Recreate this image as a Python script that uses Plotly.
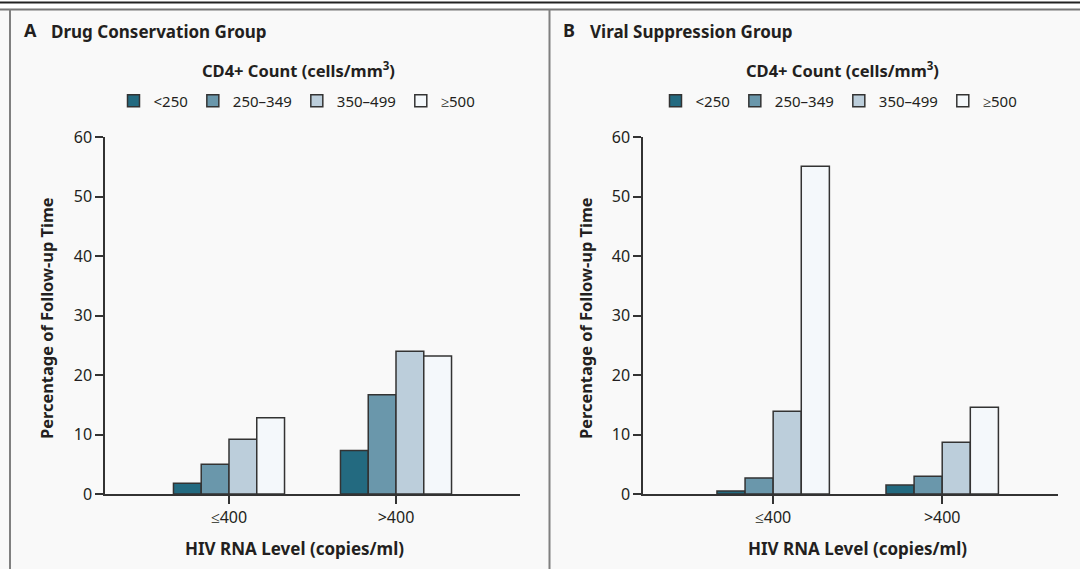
import plotly.graph_objects as go

W, H = 1080, 569

rna_levels = ["≤400", ">400"]
cd4_groups = ["<250", "250–349", "350–499", "≥500"]

# percentage of follow-up time, one list per CD4 group: [≤400, >400]
conservation = {
    "<250": [1.8, 7.3],
    "250–349": [5.0, 16.7],
    "350–499": [9.2, 24.0],
    "≥500": [12.8, 23.2],
}
suppression = {
    "<250": [0.5, 1.5],
    "250–349": [2.7, 3.0],
    "350–499": [13.9, 8.7],
    "≥500": [55.1, 14.6],
}

colors = {"<250": "#236a80", "250–349": "#6a97ab", "350–499": "#bccedb", "≥500": "#f4f8fb"}
FONT = "Noto Sans"
INK = "#231f20"


def px(x, y):
    return x / W, 1 - y / H


fig = go.Figure()

for name in cd4_groups:
    fig.add_trace(go.Bar(
        x=rna_levels, y=conservation[name], name=name,
        marker=dict(color=colors[name], line=dict(color="#333333", width=1.5)),
        xaxis="x", yaxis="y", legend="legend",
    ))
for name in cd4_groups:
    fig.add_trace(go.Bar(
        x=rna_levels, y=suppression[name], name=name,
        marker=dict(color=colors[name], line=dict(color="#333333", width=1.5)),
        xaxis="x2", yaxis="y2", legend="legend2",
    ))

axis_common = dict(
    showline=True, linecolor="#333333", linewidth=1.5,
    ticks="outside", ticklen=8, tickwidth=1.5, tickcolor="#333333",
    showgrid=False, zeroline=False, fixedrange=True, automargin=False,
    tickfont=dict(family=FONT, size=16, color=INK),
)

ybot, ytop = 1 - 494 / H, 1 - 137 / H

fig.update_layout(
    width=W, height=H,
    margin=dict(l=0, r=0, t=0, b=0, autoexpand=False),
    paper_bgcolor="#f9f9f9",
    plot_bgcolor="rgba(0,0,0,0)",
    barmode="group", bargap=0.335, bargroupgap=0,
    font=dict(family=FONT, color=INK),
    xaxis=dict(domain=[105 / W, 520 / W], range=[-0.7425, 1.7425], anchor="y", **axis_common),
    yaxis=dict(domain=[ybot, ytop], range=[0, 60], dtick=10, anchor="x", **axis_common),
    xaxis2=dict(domain=[643 / W, 1058 / W], range=[-0.77, 1.685], anchor="y2", **axis_common),
    yaxis2=dict(domain=[ybot, ytop], range=[0, 60], dtick=10, anchor="x2", **axis_common),
    legend=dict(orientation="h", x=297 / W, xanchor="center", y=1 - 101 / H, yanchor="middle",
                bgcolor="rgba(0,0,0,0)", font=dict(family=FONT, size=15, color=INK),
                traceorder="normal"),
    legend2=dict(orientation="h", x=839 / W, xanchor="center", y=1 - 101 / H, yanchor="middle",
                 bgcolor="rgba(0,0,0,0)", font=dict(family=FONT, size=15, color=INK),
                 traceorder="normal"),
)

# frame: white strip and rules at the top, panel borders
fig.add_shape(type="rect", xref="paper", yref="paper", x0=0, x1=1, y0=1 - 9 / H, y1=1,
              fillcolor="white", line_width=0, layer="below")
fig.add_shape(type="line", xref="paper", yref="paper", x0=0, x1=1, y0=1 - 2.5 / H, y1=1 - 2.5 / H,
              line=dict(color="#222222", width=2))
fig.add_shape(type="line", xref="paper", yref="paper", x0=0, x1=1, y0=1 - 9.5 / H, y1=1 - 9.5 / H,
              line=dict(color="#777777", width=2))
for xb in (10, 549.5):
    fig.add_shape(type="line", xref="paper", yref="paper", x0=xb / W, x1=xb / W, y0=0, y1=1 - 9.5 / H,
                  line=dict(color="#808080", width=2))


def note(text, x, y, size, xanchor="center", angle=0):
    ax, ay = px(x, y)
    fig.add_annotation(text=text, x=ax, y=ay, xref="paper", yref="paper",
                       xanchor=xanchor, yanchor="middle", showarrow=False, textangle=angle,
                       font=dict(family=FONT, size=size, color=INK))


for dx, letter, title in ((0, "A", "Drug Conservation Group"), (539, "B", "Viral Suppression Group")):
    note(f"<b>{letter}</b>", 22 + dx, 30, 18, xanchor="left")
    note(f"<b>{title}</b>", 49 + dx, 31, 17, xanchor="left")
    note("<b>CD4+ Count (cells/mm<sup>3</sup>)</b>", 298 + dx * 1.01, 70, 16.5)
    note("<b>Percentage of Follow-up Time</b>", 46 + dx, 318, 16.4, angle=-90)

note("<b>HIV RNA Level (copies/ml)</b>", 294, 548, 17)
note("<b>HIV RNA Level (copies/ml)</b>", 857, 548, 17)

# the page's default body margin would shift the figure by 8px
fig.write_html("out.html", config={"displayModeBar": False},
               post_script="document.body.style.margin = '0';")
